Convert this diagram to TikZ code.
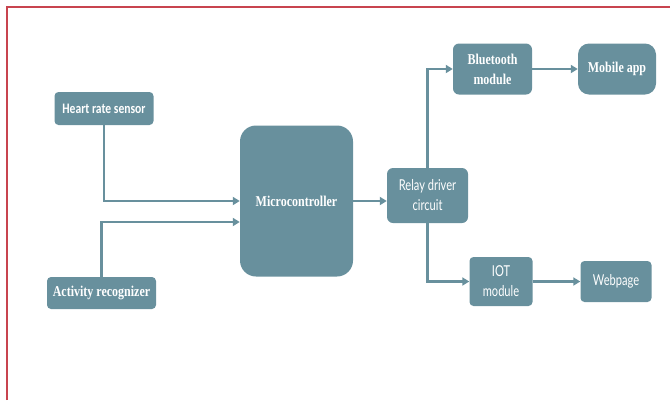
\documentclass[tikz,border=0pt]{standalone}
\usepackage{fontspec}
\usetikzlibrary{arrows.meta,calc}
\newfontfamily\serifbold[FakeStretch=0.8]{Liberation Serif}
\newfontfamily\condsans[FakeStretch=0.8]{Carlito}
\newfontfamily\humansans[FakeStretch=0.74]{Lato}
\definecolor{boxblue}{HTML}{68909D}
\definecolor{framered}{HTML}{C8444F}
\tikzset{
  blk/.style={fill=boxblue, draw=none, text=white, align=center, inner sep=0pt, rounded corners=4pt},
  arr/.style={draw=boxblue, line width=2.4pt, -{Triangle[length=7pt,width=8pt]}},
  lbl/.style={font=\serifbold\bfseries\fontsize{15}{20}\selectfont},
  lblsans/.style={font=\humansans\fontsize{15}{20}\selectfont},
}
\begin{document}
\begin{tikzpicture}[x=1pt,y=-1pt]
\useasboundingbox (0,0) rectangle (670,400);
% page frame
\draw[framered, line width=1.3pt] (7,400) -- (7,7) -- (670,7);

% blocks
\node[blk, minimum width=99pt, minimum height=33pt, font=\condsans\bfseries\fontsize{14.5}{16}\selectfont] (hr) at (104,108.5) {Heart rate sensor};
\node[blk, lbl, minimum width=109pt, minimum height=32pt] (act) at (101.5,293) {Activity recognizer};
\node[blk, lbl, minimum width=113pt, minimum height=151pt, rounded corners=16pt] (mc) at (296.5,201) {Microcontroller};
\node[blk, lblsans, minimum width=81pt, minimum height=55pt, rounded corners=6pt] (relay) at (427.5,195.5) {Relay driver\\circuit};
\node[blk, lbl, minimum width=79pt, minimum height=51pt, rounded corners=6pt] (bt) at (492.5,69) {Bluetooth\\module};
\node[blk, lbl, minimum width=78pt, minimum height=51pt, rounded corners=11pt] (mob) at (617,69) {Mobile app};
\node[blk, lblsans, minimum width=63pt, minimum height=49pt] (iot) at (501,281.5) {IOT\\module};
\node[blk, lblsans, minimum width=71pt, minimum height=41pt] (web) at (616,281.5) {Webpage};

% connectors
\draw[arr] (hr.south) |- (mc.west);
\draw[arr] (act.north) |- ($(mc.west)+(0,21)$);
\draw[arr] (mc.east) -- (mc.east -| relay.west);
\draw[arr] (relay.north) |- (bt.west);
\draw[arr] (relay.south) |- (iot.west);
\draw[arr] (bt.east) -- (mob.west);
\draw[arr] (iot.east) -- (web.west);
\end{tikzpicture}
\end{document}
